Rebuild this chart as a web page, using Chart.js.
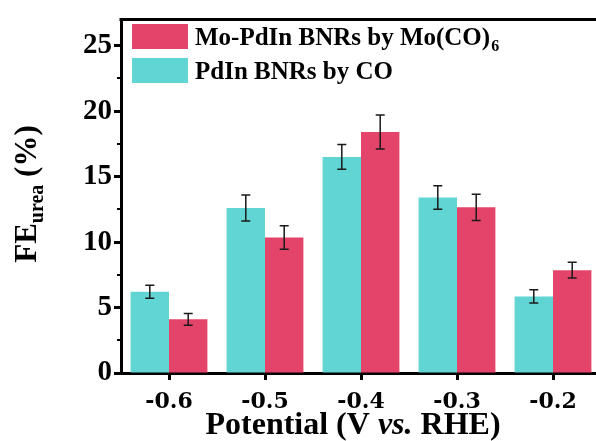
<!DOCTYPE html>
<html>
<head>
<meta charset="utf-8">
<script src="https://cdn.jsdelivr.net/npm/chart.js@4/dist/chart.umd.min.js"></script>
<style>
  html, body { margin: 0; padding: 0; background: #fff; overflow: hidden; }
  canvas { display: block; }
</style>
</head>
<body>
<canvas id="fe" width="606" height="441"></canvas>
<script>
// potentials (V vs. RHE) and urea faradaic efficiency (%)
var potentials = ['-0.6', '-0.5', '-0.4', '-0.3', '-0.2'];
var pdinCO     = [6.2, 12.6, 16.5, 13.4, 5.85];
var pdinCOErr  = [0.5, 1.0, 0.95, 0.9, 0.5];
var moPdin     = [4.1, 10.35, 18.4, 12.65, 7.85];
var moPdinErr  = [0.45, 0.9, 1.3, 1.0, 0.6];
var yMinorTicks = [2.5, 7.5, 12.5, 17.5, 22.5];

var SERIF = "'Liberation Serif', 'Times New Roman', serif";
var WIDE_SERIF = "'DejaVu Serif', serif";
var CYAN = '#61d5d3';
var RED = '#e5446a';

var errs = [pdinCOErr, moPdinErr];

// error bars, minor ticks, top frame, legend and axis titles
var decorations = {
    id: 'decorations',
    afterDatasetsDraw: function (chart) {
        var ctx = chart.ctx;
        var y = chart.scales.y;

        ctx.save();
        ctx.strokeStyle = '#1a1a1a';
        ctx.lineWidth = 1.5;
        chart.data.datasets.forEach(function (ds, di) {
            var meta = chart.getDatasetMeta(di);
            meta.data.forEach(function (bar, i) {
                var v = ds.data[i], e = errs[di][i];
                var top = y.getPixelForValue(v + e);
                var bot = y.getPixelForValue(v - e);
                var x = bar.x;
                ctx.beginPath();
                ctx.moveTo(x, top); ctx.lineTo(x, bot);
                ctx.moveTo(x - 4.5, top); ctx.lineTo(x + 4.5, top);
                ctx.moveTo(x - 4.5, bot); ctx.lineTo(x + 4.5, bot);
                ctx.stroke();
            });
        });
        ctx.restore();
    },
    afterDraw: function (chart) {
        var ctx = chart.ctx;
        var y = chart.scales.y;
        var area = chart.chartArea;

        ctx.save();
        ctx.strokeStyle = '#000';

        // minor ticks on the y axis
        ctx.lineWidth = 2;
        yMinorTicks.forEach(function (t) {
            var py = Math.round(y.getPixelForValue(t));
            ctx.beginPath();
            ctx.moveTo(area.left - 4, py);
            ctx.lineTo(area.left, py);
            ctx.stroke();
        });

        // top frame line
        ctx.lineWidth = 3;
        ctx.beginPath();
        ctx.moveTo(area.left - 1.5, area.top);
        ctx.lineTo(area.right, area.top);
        ctx.stroke();

        // legend
        ctx.fillStyle = RED;
        ctx.fillRect(132, 24, 56, 25);
        ctx.fillStyle = CYAN;
        ctx.fillRect(132, 58, 56, 25);

        ctx.fillStyle = '#000';
        ctx.textBaseline = 'alphabetic';
        ctx.textAlign = 'left';
        ctx.font = 'bold 25px ' + SERIF;
        var s1 = 'Mo-PdIn BNRs by Mo(CO)';
        ctx.fillText(s1, 195, 45);
        var w1 = ctx.measureText(s1).width;
        ctx.font = 'bold 16px ' + SERIF;
        ctx.fillText('6', 195 + w1 + 1, 51);
        ctx.font = 'bold 25px ' + SERIF;
        ctx.fillText('PdIn BNRs by CO', 195, 79);

        // x axis title
        var parts = [
            ['Potential (V ', 'bold 32px ' + SERIF],
            ['vs.', 'italic bold 32px ' + SERIF],
            [' RHE)', 'bold 32px ' + SERIF]
        ];
        var total = 0;
        parts.forEach(function (p) { ctx.font = p[1]; total += ctx.measureText(p[0]).width; });
        var px = 353 - total / 2;
        parts.forEach(function (p) {
            ctx.font = p[1];
            ctx.fillText(p[0], px, 434);
            px += ctx.measureText(p[0]).width;
        });

        // y axis title, rotated
        ctx.translate(36, 194);
        ctx.rotate(-Math.PI / 2);
        var yparts = [
            ['FE', 'bold 31px ' + SERIF, 0],
            ['urea', 'bold 20px ' + SERIF, 7],
            [' (%)', 'bold 31px ' + SERIF, 0]
        ];
        total = 0;
        yparts.forEach(function (p) { ctx.font = p[1]; total += ctx.measureText(p[0]).width; });
        px = -total / 2;
        yparts.forEach(function (p) {
            ctx.font = p[1];
            ctx.fillText(p[0], px, p[2]);
            px += ctx.measureText(p[0]).width;
        });
        ctx.restore();
    }
};

new Chart(document.getElementById('fe'), {
    type: 'bar',
    data: {
        labels: potentials,
        datasets: [
            { label: 'PdIn BNRs by CO', data: pdinCO, backgroundColor: CYAN },
            { label: 'Mo-PdIn BNRs by Mo(CO)6', data: moPdin, backgroundColor: RED }
        ]
    },
    options: {
        responsive: false,
        animation: false,
        devicePixelRatio: 1,
        layout: { padding: { left: 0, top: 15, right: 5, bottom: 0 } },
        datasets: { bar: { categoryPercentage: 0.8, barPercentage: 1.0 } },
        plugins: { legend: { display: false }, tooltip: { enabled: false } },
        scales: {
            x: {
                offset: true,
                grid: { offset: false, drawOnChartArea: false, drawTicks: true, tickLength: 7, tickWidth: 3, tickColor: '#000' },
                border: { display: true, width: 3, color: '#000' },
                ticks: { color: '#000', padding: 9, font: { family: WIDE_SERIF, size: 22, weight: 'bold' } },
                afterFit: function (s) { s.height = 68; }
            },
            y: {
                min: 0,
                max: 27,
                ticks: {
                    stepSize: 5,
                    includeBounds: false,
                    color: '#000',
                    padding: 2,
                    font: { family: SERIF, size: 29, weight: 'bold' }
                },
                grid: { drawOnChartArea: false, drawTicks: true, tickLength: 7, tickWidth: 3, tickColor: '#000' },
                border: { display: true, width: 3, color: '#000' },
                afterFit: function (s) { s.width = 121; }
            }
        }
    },
    plugins: [decorations]
});
</script>
</body>
</html>
